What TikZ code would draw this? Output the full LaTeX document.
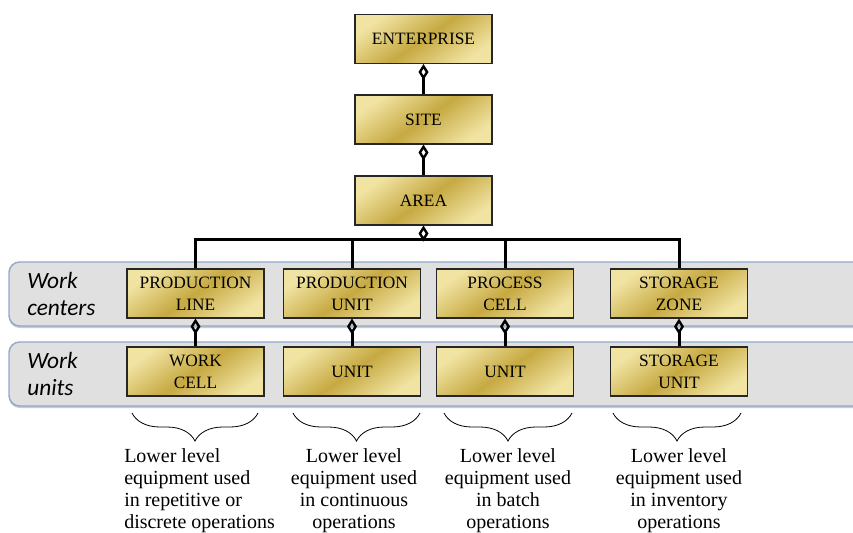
\documentclass[tikz,border=0pt]{standalone}
\usepackage{fontspec}
\setmainfont{Liberation Serif}
\newfontfamily\bandfont{Carlito}
\usetikzlibrary{arrows.meta,shadows,decorations.pathreplacing}
\definecolor{goldlight}{HTML}{F1E4A3}
\definecolor{golddark}{HTML}{C6A942}
\definecolor{bandfill}{HTML}{E0E0E0}
\definecolor{bandline}{HTML}{8FAACB}

\begin{document}
\begin{tikzpicture}[x=0.75pt,y=-0.75pt,
    unitbox/.style={draw=black!85,line width=0.8pt,top color=goldlight,bottom color=goldlight,middle color=golddark,shading angle=35,
      minimum width=102.75pt,minimum height=36.75pt,inner sep=0pt,align=center,font=\fontsize{13}{16.5}\selectfont},
    band/.style={draw=bandline,line width=1.1pt,fill=bandfill,rounded corners=8pt,
      drop shadow={shadow xshift=0pt,shadow yshift=-1.5pt,opacity=0.35,fill=black!60}},
    bandlabel/.style={anchor=west,align=left,inner sep=0pt,font=\bandfont\itshape\fontsize{17.5}{20}\selectfont},
    link/.style={line width=2.25pt},
    part/.style={link,{Diamond[open,length=12pt,width=7.5pt,line width=1.8pt]}-},
    note/.style={inner sep=0pt,font=\fontsize{15}{16.7}\selectfont},
    group/.style={decorate,decoration={brace,mirror,amplitude=21pt},line width=0.6pt}]

\useasboundingbox (0,0) rectangle (853,532);
\clip (0,0) rectangle (853,532);

% Bands for work centers and work units
\draw[band] (9,262) rectangle (880,326);
\draw[band] (9,342) rectangle (880,406);
\node[bandlabel] (wclabel) at (27,294) {Work\\centers};
\node[bandlabel] (wulabel) at (27,374) {Work\\units};

% Upper levels
\node[unitbox] (ent) at (423.5,39) {ENTERPRISE};
\node[unitbox] (site) at (423.5,119.5) {SITE};
\node[unitbox] (area) at (423.5,200.5) {AREA};

% Work centers
\node[unitbox] (pl) at (195.5,293.5) {PRODUCTION\\LINE};
\node[unitbox] (pu) at (352,293.5) {PRODUCTION\\UNIT};
\node[unitbox] (pc) at (505,293.5) {PROCESS\\CELL};
\node[unitbox] (sz) at (679,293.5) {STORAGE\\ZONE};

% Work units
\node[unitbox] (wc) at (195.5,371.5) {WORK\\CELL};
\node[unitbox] (u1) at (352,371.5) {UNIT};
\node[unitbox] (u2) at (505,371.5) {UNIT};
\node[unitbox] (su) at (679,371.5) {STORAGE\\UNIT};

% Aggregation links
\draw[part] (ent.south) -- (site.north);
\draw[part] (site.south) -- (area.north);
\coordinate (bus) at (423.5,239);
\draw[part] (area.south) -- (bus);
\draw[link] (pl.north) -- (pl.north |- bus) -- (sz.north |- bus) -- (sz.north);
\draw[link] (pu.north) -- (pu.north |- bus);
\draw[link] (pc.north) -- (pc.north |- bus);

\draw[part] (pl.south) -- (wc.north);
\draw[part] (pu.south) -- (u1.north);
\draw[part] (pc.south) -- (u2.north);
\draw[part] (sz.south) -- (su.north);

% Braces and notes
\draw[group] (132,413) -- (258,413);
\draw[group] (293,413) -- (420,413);
\draw[group] (444,413) -- (572,413);
\draw[group] (613,413) -- (741,413);

\node[note,anchor=north west,align=left] (n1) at (124,448) {Lower level\\equipment used\\in repetitive or\\discrete operations};
\node[note,anchor=north,align=center] (n2) at (354,448) {Lower level\\equipment used\\in continuous\\operations};
\node[note,anchor=north,align=center] (n3) at (508,448) {Lower level\\equipment used\\in batch\\operations};
\node[note,anchor=north,align=center] (n4) at (679,448) {Lower level\\equipment used\\in inventory\\operations};

\end{tikzpicture}
\end{document}
